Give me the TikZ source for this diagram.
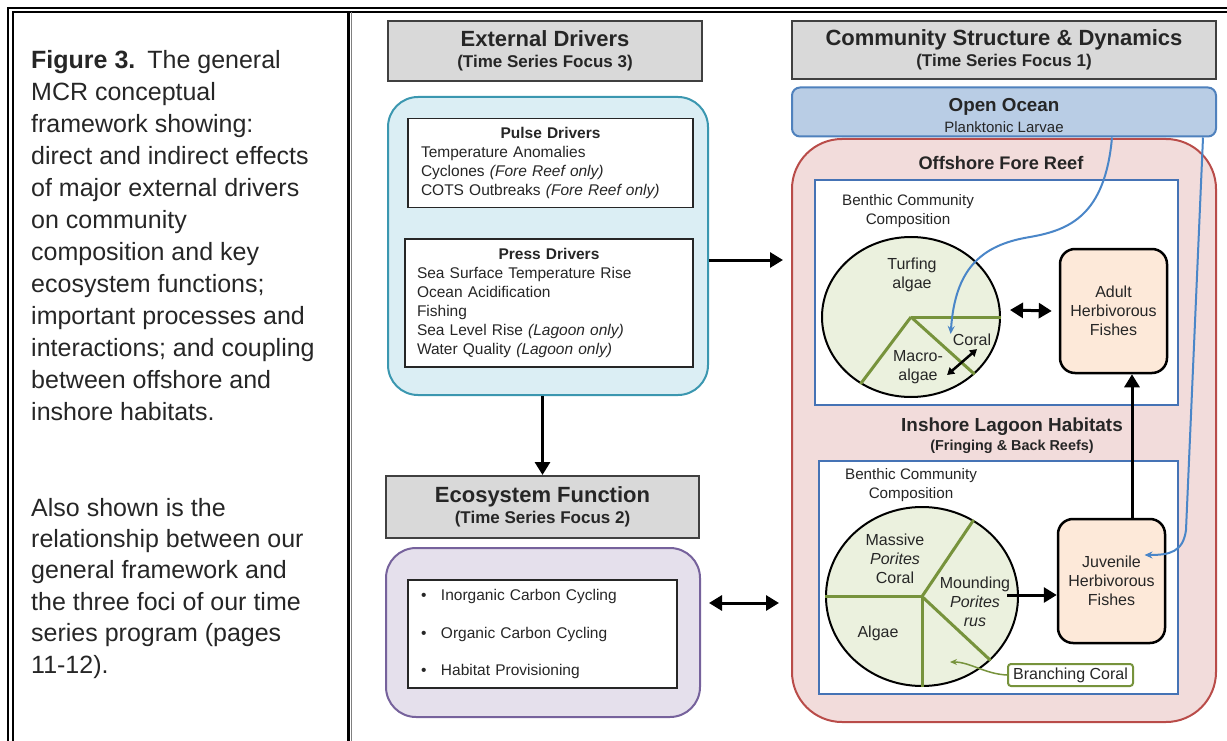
\documentclass[tikz,border=0pt]{standalone}
\usepackage{fontspec}
\setmainfont{Liberation Sans}
\usetikzlibrary{arrows.meta,positioning,shapes.geometric}

\definecolor{txtdark}{HTML}{262626}
\definecolor{hdrgray}{HTML}{D9D9D9}
\definecolor{hdrline}{HTML}{404040}
\definecolor{extfill}{HTML}{DBEEF4}
\definecolor{extline}{HTML}{3B97B0}
\definecolor{ecofill}{HTML}{E5E0EC}
\definecolor{ecoline}{HTML}{76629C}
\definecolor{oceanfill}{HTML}{B9CDE5}
\definecolor{oceanline}{HTML}{4F81BD}
\definecolor{reeffill}{HTML}{F2DCDB}
\definecolor{reefline}{HTML}{B94C49}
\definecolor{habline}{HTML}{4573B5}
\definecolor{piefill}{HTML}{EBF1DE}
\definecolor{pieline}{HTML}{77933C}
\definecolor{fishfill}{HTML}{FDE9D9}
\definecolor{larvaline}{HTML}{4A86C8}

\newcommand{\smalltxt}{\fontsize{15.5}{19}\selectfont}
\newcommand{\titletxt}{\fontsize{22}{26}\selectfont\bfseries}

\tikzset{
	>={Triangle[length=13pt,width=15pt]}, % office style heads
	every node/.style={text=txtdark},
	frameline/.style={line width=2pt, black},
	hdrbox/.style={draw=hdrline, fill=hdrgray, line width=2pt, inner sep=0pt,
		align=center, font=\fontsize{17}{21}\selectfont\bfseries},
	roundbox/.style={line width=2pt, rounded corners=30pt, inner sep=0pt},
	drvbox/.style={draw=txtdark, fill=white, line width=1.5pt, inner sep=0pt,
		align=left, font=\smalltxt},
	habbox/.style={draw=habline, fill=white, line width=2.5pt, inner sep=0pt},
	pie/.style={ellipse, draw=black, fill=piefill, line width=2pt, inner sep=0pt},
	pieedge/.style={draw=pieline, line width=3pt},
	fishbox/.style={draw=black, fill=fishfill, line width=2.5pt, rounded corners=15pt,
		inner sep=0pt, align=center, font=\fontsize{16}{19}\selectfont},
	lbl/.style={inner sep=0pt, align=center, font=\fontsize{16}{19}\selectfont},
	bigarrow/.style={line width=3pt, black},
	larva/.style={draw=larvaline, line width=2pt, -{Stealth[length=8pt,width=7pt]}},
	captext/.style={inner sep=0pt, align=left, font=\fontsize{25}{32}\selectfont},
}

\begin{document}
\begin{tikzpicture}[x=1pt, y=-1pt]
	\useasboundingbox (0,0) rectangle (1227,741);

	% frame
	\draw[frameline] (8,741) -- (8,8) -- (1227,8);
	\draw[frameline] (12.5,741) -- (12.5,12.5) -- (1227,12.5);
	\draw[line width=3pt] (348,12.5) -- (348,741);
	\draw[line width=1.5pt, gray] (351.5,12.5) -- (351.5,741);

	% caption
	\node[captext, anchor=north west] (capone) at (31,49.8) {\textbf{Figure 3.}\hspace{12pt}The general\\MCR conceptual\\framework showing:\\direct and indirect effects\\of major external drivers\\on community\\composition and key\\ecosystem functions;\\important processes and\\interactions; and coupling\\between offshore and\\inshore habitats.};
	\node[captext, font=\fontsize{25}{31.4}\selectfont, anchor=north west] (captwo) at (31,497.8) {Also shown is the\\relationship between our\\general framework and\\the three foci of our time\\series program (pages\\11-12).};

	% external drivers
	\node[hdrbox, minimum width=314pt, minimum height=60pt] (extdrv) at (545,51)
		{{\titletxt External Drivers}\\(Time Series Focus 3)};
	\node[roundbox, draw=extline, fill=extfill, minimum width=320pt, minimum height=298pt] (extbox) at (548,246) {};
	\node[drvbox, minimum width=285pt, minimum height=89pt, text width=259pt] (pulse) at (550.5,163)
		{\makebox[\linewidth]{\bfseries Pulse Drivers}\\Temperature Anomalies\\Cyclones \textit{(Fore Reef only)}\\COTS Outbreaks \textit{(Fore Reef only)}};
	\node[drvbox, minimum width=288pt, minimum height=128pt, text width=264pt] (press) at (549,303)
		{\makebox[\linewidth]{\bfseries Press Drivers}\\Sea Surface Temperature Rise\\Ocean Acidification\\Fishing\\Sea Level Rise \textit{(Lagoon only)}\\Water Quality \textit{(Lagoon only)}};

	% ecosystem function
	\node[hdrbox, minimum width=313pt, minimum height=62pt] (ecohdr) at (542.5,507)
		{{\titletxt Ecosystem Function}\\(Time Series Focus 2)};
	\node[roundbox, draw=ecoline, fill=ecofill, minimum width=314pt, minimum height=169pt] (ecobox) at (543,632.5) {};
	\node[drvbox, minimum width=269pt, minimum height=108pt, text width=247pt] (ecolist) at (542.5,634)
		{\makebox[22pt][l]{\hspace{2pt}\textbullet}Inorganic Carbon Cycling\\[18.5pt]
		 \makebox[22pt][l]{\hspace{2pt}\textbullet}Organic Carbon Cycling\\[18.5pt]
		 \makebox[22pt][l]{\hspace{2pt}\textbullet}Habitat Provisioning};

	% community structure
	\node[hdrbox, minimum width=424pt, minimum height=58pt] (commhdr) at (1004,50)
		{{\titletxt Community Structure \& Dynamics}\\(Time Series Focus 1)};
	\node[roundbox, rounded corners=50pt, draw=reefline, fill=reeffill, minimum width=424pt, minimum height=583pt] (reef) at (1004,430.5) {};
	\node[draw=oceanline, fill=oceanfill, line width=2pt, rounded corners=8pt, inner sep=0pt,
		minimum width=424pt, minimum height=49pt] (ocean) at (1004,112) {};
	\node[lbl, font=\fontsize{15}{21}\selectfont] (oceantxt) at (1004,115.5)
		{{\fontsize{18.8}{22}\selectfont\bfseries Open Ocean}\\Planktonic Larvae};

	% offshore fore reef
	\node[lbl, font=\fontsize{18.2}{22}\selectfont\bfseries] (offtitle) at (1001,163) {Offshore Fore Reef};
	\node[habbox, minimum width=363pt, minimum height=225pt] (offbox) at (996.5,292.5) {};
	\node[lbl, font=\fontsize{15.2}{19}\selectfont] (offbenthic) at (908,211) {Benthic Community\\Composition};
	\node[pie, minimum width=178pt, minimum height=160pt] (offpie) at (911,317) {};
	\draw[pieedge] (offpie.center) -- (offpie.0);
	\draw[pieedge] (offpie.center) -- (offpie.233);
	\draw[pieedge] (offpie.center) -- (offpie.318);
	\node[lbl] (turf) at (912,275) {Turfing\\algae};
	\node[lbl] (offcoral) at (972,340) {Coral};
	\node[lbl] (macro) at (918,367) {Macro-\\algae};
	\draw[line width=2.5pt, <->, >={Triangle[length=7pt,width=8pt]}] ([xshift=4pt,yshift=-8pt]macro.east) -- ([xshift=5pt,yshift=-3pt]offcoral.south);
	\node[fishbox, minimum width=107pt, minimum height=124pt] (adultfish) at (1113.5,311) {Adult\\Herbivorous\\Fishes};
	\draw[bigarrow, <->] ([xshift=9pt,yshift=7pt]offpie.east) -- ([xshift=-7pt]adultfish.west);

	% inshore lagoon
	\node[lbl, font=\fontsize{18.9}{20}\selectfont\bfseries] (intitle) at (1012,427) {Inshore Lagoon Habitats};
	\node[lbl, font=\fontsize{14.4}{18}\selectfont\bfseries] (insub) at (1012,447) {(Fringing \& Back Reefs)};
	\node[habbox, minimum width=359pt, minimum height=233pt] (inbox) at (998.5,577.5) {};
	\node[lbl, font=\fontsize{15.2}{19}\selectfont] (inbenthic) at (911,485.5) {Benthic Community\\Composition};
	\node[pie, minimum width=192pt, minimum height=179pt] (inpie) at (922,596.5) {};
	\draw[pieedge] (inpie.center) -- (inpie.180);
	\draw[pieedge] (inpie.center) -- (inpie.56);
	\draw[pieedge] (inpie.center) -- (inpie.270);
	\draw[pieedge] (inpie.center) -- (inpie.317);
	\node[lbl] (massive) at (895,559) {Massive\\\textit{Porites}\\Coral};
	\node[lbl] (mounding) at (975,601.5) {Mounding\\\textit{Porites}\\\textit{rus}};
	\node[lbl] (algae) at (878,633) {Algae};
	\node[fishbox, minimum width=107pt, minimum height=124pt] (juvfish) at (1111.5,581) {Juvenile\\Herbivorous\\Fishes};
	\coordinate (mndout) at ([xshift=-3pt,yshift=6.5pt]mounding.east);
	\draw[bigarrow, ->] (mndout) -- (mndout -| juvfish.west);
	\draw[bigarrow, ->] ([xshift=20.5pt]juvfish.north) -- ([xshift=18.5pt]adultfish.south);
	\node[draw=pieline, fill=white, line width=2pt, rounded corners=3pt, inner sep=0pt,
		minimum width=125pt, minimum height=22pt, font=\fontsize{16}{19}\selectfont] (branch) at (1070.5,675) {Branching Coral};
	\coordinate (branchtip) at (950,662);
	\draw[draw=pieline, line width=1.5pt, -{Stealth[length=7pt,width=6pt]}] (branch.west) .. controls (985,674) and (970,662) .. (branchtip);

	% arrows between columns
	\coordinate (commin) at (783,260);
	\coordinate (commleft) at (779,603);
	\draw[bigarrow, ->] (extbox.east |- commin) -- (commin);
	\draw[bigarrow, ->] (extbox.south -| ecohdr.north) -- (ecohdr.north);
	\draw[bigarrow, <->] ([xshift=8pt]ecobox.east |- commleft) -- (commleft);

	% larval supply
	\draw[larva] ([xshift=108pt]ocean.south) .. controls (1105,215) and (1070,230) .. (1030,237)
		.. controls (980,245) and (955,270) .. ([xshift=-2pt,yshift=6pt]offcoral.west);
	\draw[larva] ([xshift=199pt]ocean.south) -- (1186,530) .. controls (1183,552) and (1170,555) .. ([xshift=33pt,yshift=26pt]juvfish.center);
\end{tikzpicture}
\end{document}
